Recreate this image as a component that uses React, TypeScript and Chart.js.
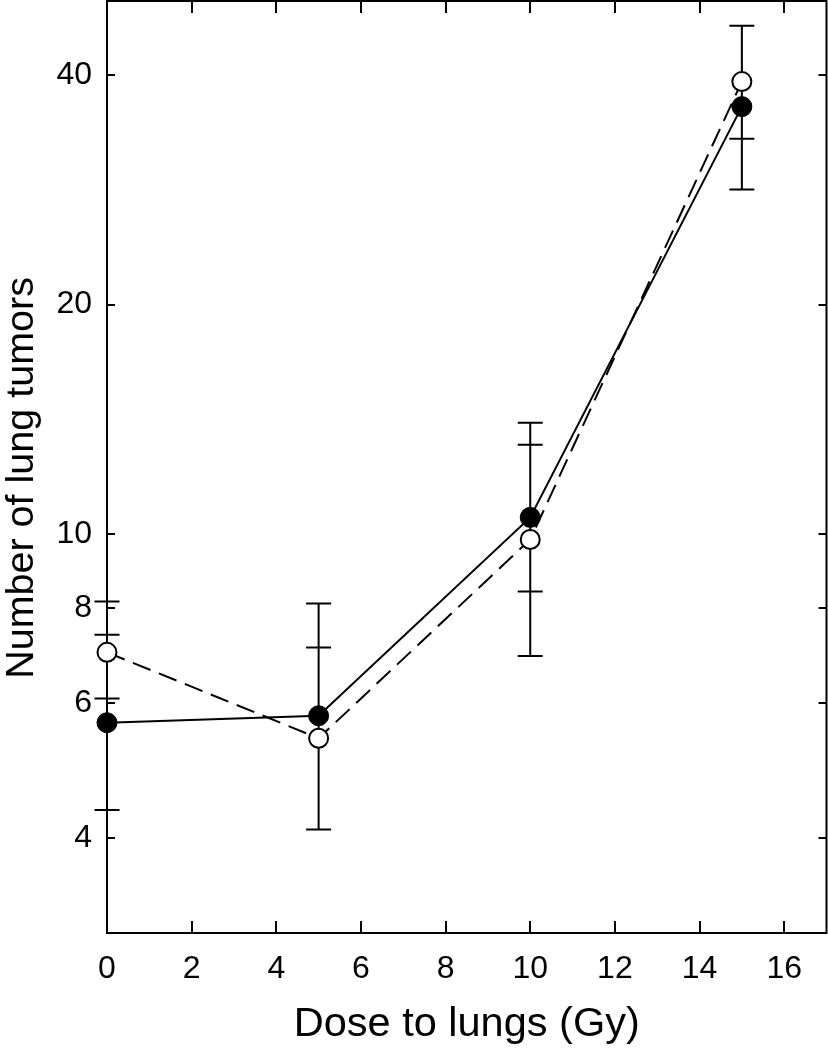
import React, { useEffect, useRef } from "react";
import { Chart, registerables } from "chart.js";

Chart.register(...registerables);

// ---- data ----
const doses = [0, 5, 10, 15];
const filledMean = [5.66, 5.78, 10.52, 36.35];
const filledLow = [4.35, 4.1, 8.41, 28.3];
const filledHigh = [7.38, 8.11, 13.1, 46.4];
const openMean = [7.0, 5.4, 9.84, 39.2];
const openLow = [6.09, 4.1, 6.92, 33.0];
const openHigh = [8.16, 7.1, 14.0, 46.4];
const xTickValues = [0, 2, 4, 6, 8, 10, 12, 14, 16];
const yTickValues = [4, 6, 8, 10, 20, 40];
const xRange = [0, 17];
const yRange = [3, 50];
const xTitle = "Dose to lungs (Gy)";
const yTitle = "Number of lung tumors  ";

const FONT = '"Liberation Sans", Arial, Helvetica, sans-serif';

const errorSets = [
  { low: filledLow, high: filledHigh },
  { low: openLow, high: openHigh },
];

const framePlugin = {
  id: "frameAndErrors",
  beforeDatasetsDraw(chart: any) {
    const { ctx, chartArea } = chart;
    const xs = chart.scales.x;
    const ys = chart.scales.y;
    ctx.save();
    ctx.strokeStyle = "#000";
    ctx.lineWidth = 2;
    ctx.lineCap = "butt";
    // box
    ctx.strokeRect(
      chartArea.left,
      chartArea.top,
      chartArea.right - chartArea.left,
      chartArea.bottom - chartArea.top
    );
    // inward ticks
    ctx.beginPath();
    xs.ticks.forEach((t: any) => {
      const px = Math.round(xs.getPixelForValue(t.value));
      ctx.moveTo(px, chartArea.bottom);
      ctx.lineTo(px, chartArea.bottom - 12);
      ctx.moveTo(px, chartArea.top);
      ctx.lineTo(px, chartArea.top + 12);
    });
    ys.ticks.forEach((t: any) => {
      const py = Math.round(ys.getPixelForValue(t.value));
      ctx.moveTo(chartArea.left, py);
      ctx.lineTo(chartArea.left + 8, py);
      ctx.moveTo(chartArea.right, py);
      ctx.lineTo(chartArea.right - 8, py);
    });
    ctx.stroke();
    // error bars
    ctx.beginPath();
    errorSets.forEach((es) => {
      doses.forEach((d, i) => {
        const px = xs.getPixelForValue(d);
        const pl = ys.getPixelForValue(es.low[i]);
        const ph = ys.getPixelForValue(es.high[i]);
        ctx.moveTo(px, pl);
        ctx.lineTo(px, ph);
        ctx.moveTo(px - 12.5, pl);
        ctx.lineTo(px + 12.5, pl);
        ctx.moveTo(px - 12.5, ph);
        ctx.lineTo(px + 12.5, ph);
      });
    });
    ctx.stroke();
    ctx.restore();
  },
};

export default function App() {
  const ref = useRef<HTMLCanvasElement | null>(null);
  useEffect(() => {
    if (!ref.current) return;
    const chart = new Chart(ref.current, {
      type: "line",
      data: {
        datasets: [
          {
            label: "filled",
            data: doses.map((d, i) => ({ x: d, y: filledMean[i] })),
            borderColor: "#000",
            borderWidth: 2,
            backgroundColor: "#000",
            pointBackgroundColor: "#000",
            pointBorderColor: "#000",
            pointBorderWidth: 1,
            pointRadius: 10,
            tension: 0,
            clip: false as any,
          },
          {
            label: "open",
            data: doses.map((d, i) => ({ x: d, y: openMean[i] })),
            borderColor: "#000",
            borderWidth: 2,
            borderDash: [19, 9],
            backgroundColor: "#fff",
            pointBackgroundColor: "#fff",
            pointBorderColor: "#000",
            pointBorderWidth: 2,
            pointRadius: 9.5,
            tension: 0,
            clip: false as any,
          },
        ],
      },
      options: {
        responsive: false,
        animation: false,
        layout: { autoPadding: false, padding: { top: 1, right: 1.5, left: 0, bottom: 0 } },
        plugins: {
          legend: { display: false },
          tooltip: { enabled: false },
        },
        scales: {
          x: {
            type: "linear",
            min: xRange[0],
            max: xRange[1],
            grid: { display: false, drawTicks: false },
            border: { display: false },
            afterBuildTicks: (s: any) => {
              s.ticks = xTickValues.map((v) => ({ value: v }));
            },
            afterFit: (s: any) => {
              s.height = 117;
              s.paddingLeft = 0;
              s.paddingRight = 0;
            },
            ticks: {
              color: "#000",
              padding: 17,
              maxRotation: 0,
              autoSkip: false,
              font: { family: FONT, size: 32 },
              callback: (v: any) => String(v),
            },
            title: {
              display: true,
              text: xTitle,
              color: "#000",
              font: { family: FONT, size: 41.5, lineHeight: 1 },
              padding: { top: 0, bottom: 5 },
            },
          },
          y: {
            type: "logarithmic",
            min: yRange[0],
            max: yRange[1],
            grid: { display: false, drawTicks: false },
            border: { display: false },
            afterBuildTicks: (s: any) => {
              s.ticks = yTickValues.map((v) => ({ value: v }));
            },
            afterFit: (s: any) => {
              s.width = 107;
              s.paddingTop = 0;
              s.paddingBottom = 0;
            },
            ticks: {
              color: "#000",
              padding: 15,
              autoSkip: false,
              font: { family: FONT, size: 32 },
              callback: (v: any) => String(v),
            },
            title: {
              display: true,
              text: yTitle,
              color: "#000",
              font: { family: FONT, size: 39.5, lineHeight: 1 },
              padding: { top: 2, bottom: 0 },
            },
          },
        },
      },
      plugins: [framePlugin],
    });
    return () => chart.destroy();
  }, []);
  return (
    <div style={{ position: "absolute", left: 0, top: 0, width: 828, height: 1050, background: "#fff" }}>
      <canvas ref={ref} width={828} height={1050} style={{ display: "block" }} />
    </div>
  );
}
